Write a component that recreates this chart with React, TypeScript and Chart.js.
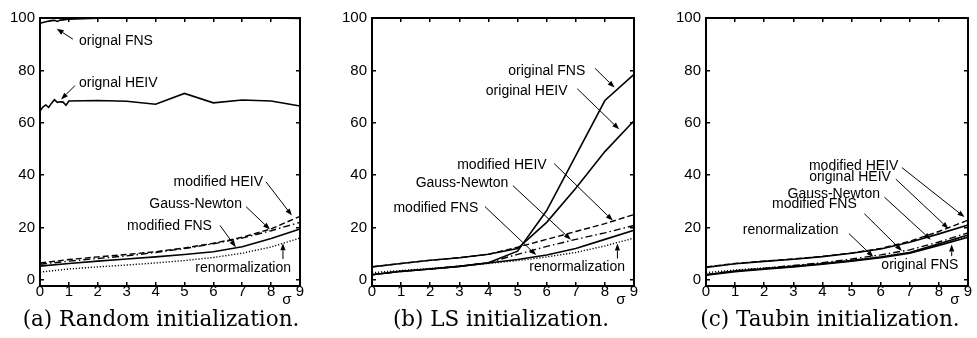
import React, { useEffect, useRef } from "react";
import { Chart, registerables } from "chart.js";
Chart.register(...registerables);

// ---------- shared axes ----------
const sigmaTicks = [0, 1, 2, 3, 4, 5, 6, 7, 8, 9];
const valueTicks = [0, 20, 40, 60, 80, 100];
const sigmaCoarse = [0, 1, 2, 3, 4, 5, 6, 7, 8, 9];
const sigmaFine = [0, 0.1, 0.2, 0.3, 0.4, 0.5, 0.6, 0.7, 0.8, 0.9, 1, 2, 3, 4, 5, 6, 7, 8, 9];

// ---------- (a) Random initialization ----------
const aOriginalFNS = [98.0, 98.3, 98.6, 98.8, 99.0, 99.1, 98.7, 99.2, 99.3, 99.4, 99.5, 99.9, 100, 100, 100, 100, 100, 100, 99.8];
const aOriginalHEIV = [64.5, 66.0, 66.8, 65.9, 67.5, 68.8, 67.8, 68.0, 67.9, 66.7, 68.3, 68.5, 68.2, 67.1, 71.2, 67.6, 68.7, 68.3, 66.4];
const aModifiedHEIV = [6.5, 7.8, 8.8, 9.7, 10.8, 12.2, 14.0, 16.3, 19.5, 24.3];
const aGaussNewton = [6.0, 7.2, 8.2, 9.2, 10.5, 12.0, 13.8, 16.0, 18.8, 22.0];
const aModifiedFNS = [5.3, 6.3, 7.2, 8.0, 8.8, 9.7, 10.8, 12.7, 15.8, 19.5];
const aRenormalization = [3.0, 4.2, 5.0, 5.7, 6.5, 7.4, 8.6, 10.2, 12.6, 16.0];

// ---------- (b) LS initialization ----------
const bOriginalFNS = [2.0, 3.3, 4.2, 5.2, 6.6, 11.0, 26.5, 47.5, 68.5, 78.5];
const bOriginalHEIV = [5.0, 6.3, 7.5, 8.5, 9.8, 12.0, 22.0, 35.0, 49.0, 60.8];
const bModifiedHEIV = [5.0, 6.3, 7.5, 8.5, 9.8, 12.5, 15.5, 18.5, 21.5, 25.0];
const bGaussNewton = [2.0, 3.3, 4.2, 5.2, 6.6, 9.8, 12.8, 15.5, 18.0, 20.8];
const bModifiedFNS = [2.0, 3.3, 4.2, 5.2, 6.5, 7.8, 9.5, 12.0, 15.5, 19.0];
const bRenormalization = [2.8, 3.6, 4.4, 5.3, 6.3, 7.4, 8.8, 10.5, 13.0, 16.0];

// ---------- (c) Taubin initialization ----------
const cModifiedHEIV = [5.0, 6.3, 7.2, 8.0, 9.0, 10.3, 12.0, 14.8, 18.5, 22.8];
const cOriginalHEIV = [4.8, 6.2, 7.1, 7.9, 8.9, 10.2, 11.8, 14.4, 17.6, 21.0];
const cGaussNewton = [2.0, 3.5, 4.5, 5.5, 6.6, 8.0, 9.6, 11.5, 14.5, 18.0];
const cModifiedFNS = [2.0, 3.4, 4.3, 5.2, 6.2, 7.4, 8.8, 10.5, 13.8, 17.2];
const cRenormalization = [2.8, 3.8, 4.6, 5.4, 6.4, 7.5, 8.8, 10.5, 13.5, 16.8];
const cOriginalFNS = [1.8, 3.2, 4.1, 5.0, 6.0, 7.2, 8.5, 10.2, 13.2, 16.3];

type Style = "solid" | "dashed" | "dashdot" | "dotted";
type Series = { label: string; xs: number[]; ys: number[]; style: Style };
type Note = { text: string; tx: number; ty: number; align: "left" | "right"; x0: number; y0: number; x1: number; y1: number };

const panelA: Series[] = [
  { label: "orignal FNS", xs: sigmaFine, ys: aOriginalFNS, style: "solid" },
  { label: "orignal HEIV", xs: sigmaFine, ys: aOriginalHEIV, style: "solid" },
  { label: "modified HEIV", xs: sigmaCoarse, ys: aModifiedHEIV, style: "dashed" },
  { label: "Gauss-Newton", xs: sigmaCoarse, ys: aGaussNewton, style: "dashdot" },
  { label: "modified FNS", xs: sigmaCoarse, ys: aModifiedFNS, style: "solid" },
  { label: "renormalization", xs: sigmaCoarse, ys: aRenormalization, style: "dotted" },
];
const panelB: Series[] = [
  { label: "original FNS", xs: sigmaCoarse, ys: bOriginalFNS, style: "solid" },
  { label: "original HEIV", xs: sigmaCoarse, ys: bOriginalHEIV, style: "solid" },
  { label: "modified HEIV", xs: sigmaCoarse, ys: bModifiedHEIV, style: "dashed" },
  { label: "Gauss-Newton", xs: sigmaCoarse, ys: bGaussNewton, style: "dashdot" },
  { label: "modified FNS", xs: sigmaCoarse, ys: bModifiedFNS, style: "solid" },
  { label: "renormalization", xs: sigmaCoarse, ys: bRenormalization, style: "dotted" },
];
const panelC: Series[] = [
  { label: "modified HEIV", xs: sigmaCoarse, ys: cModifiedHEIV, style: "dashed" },
  { label: "original HEIV", xs: sigmaCoarse, ys: cOriginalHEIV, style: "solid" },
  { label: "Gauss-Newton", xs: sigmaCoarse, ys: cGaussNewton, style: "dashdot" },
  { label: "modified FNS", xs: sigmaCoarse, ys: cModifiedFNS, style: "solid" },
  { label: "renormalization", xs: sigmaCoarse, ys: cRenormalization, style: "dotted" },
  { label: "original FNS", xs: sigmaCoarse, ys: cOriginalFNS, style: "solid" },
];

const notesA: Note[] = [
  { text: "orignal FNS", tx: 1.35, ty: 91.0, align: "left", x0: 1.14, y0: 91.9, x1: 0.58, y1: 95.9 },
  { text: "orignal HEIV", tx: 1.35, ty: 75.1, align: "left", x0: 1.21, y0: 74.2, x1: 0.73, y1: 68.9 },
  { text: "modified HEIV", tx: 7.72, ty: 37.2, align: "right", x0: 7.82, y0: 37.5, x1: 8.72, y1: 24.6 },
  { text: "Gauss-Newton", tx: 6.99, ty: 29.1, align: "right", x0: 7.13, y0: 28.0, x1: 7.96, y1: 19.3 },
  { text: "modified FNS", tx: 5.95, ty: 20.6, align: "right", x0: 6.23, y0: 20.8, x1: 6.78, y1: 12.5 },
  { text: "renormalization", tx: 8.69, ty: 4.7, align: "right", x0: 8.41, y0: 8.0, x1: 8.41, y1: 14.0 },
];
const notesB: Note[] = [
  { text: "original FNS", tx: 4.68, ty: 79.8, align: "left", x0: 7.66, y0: 80.8, x1: 8.33, y1: 73.5 },
  { text: "original HEIV", tx: 3.91, ty: 72.0, align: "left", x0: 7.05, y0: 73.0, x1: 8.49, y1: 57.5 },
  { text: "modified HEIV", tx: 6.0, ty: 43.8, align: "right", x0: 6.26, y0: 44.4, x1: 8.27, y1: 22.7 },
  { text: "Gauss-Newton", tx: 4.68, ty: 36.9, align: "right", x0: 4.84, y0: 36.0, x1: 6.83, y1: 15.4 },
  { text: "modified FNS", tx: 3.65, ty: 27.5, align: "right", x0: 3.88, y0: 28.0, x1: 5.64, y1: 9.5 },
  { text: "renormalization", tx: 8.69, ty: 5.0, align: "right", x0: 8.43, y0: 8.2, x1: 8.43, y1: 13.9 },
];
const notesC: Note[] = [
  { text: "modified HEIV", tx: 6.61, ty: 43.3, align: "right", x0: 6.73, y0: 42.9, x1: 8.88, y1: 24.0 },
  { text: "original HEIV", tx: 6.35, ty: 39.1, align: "right", x0: 6.52, y0: 38.5, x1: 8.33, y1: 19.6 },
  { text: "Gauss-Newton", tx: 5.98, ty: 32.8, align: "right", x0: 6.13, y0: 31.6, x1: 7.72, y1: 15.4 },
  { text: "modified FNS", tx: 5.18, ty: 28.8, align: "right", x0: 5.44, y0: 25.3, x1: 6.73, y1: 11.1 },
  { text: "renormalization", tx: 4.55, ty: 18.9, align: "right", x0: 4.91, y0: 17.7, x1: 5.75, y1: 8.8 },
  { text: "original FNS", tx: 8.67, ty: 5.7, align: "right", x0: 8.44, y0: 9.1, x1: 8.44, y1: 13.5 },
];

const SANS = "'Liberation Sans', Arial, sans-serif";
const Y_MIN = -2.3;
const Y_MAX = 100;

function dashFor(s: Style): number[] {
  if (s === "dashed") return [6, 3];
  if (s === "dashdot") return [7, 3, 1.5, 3];
  if (s === "dotted") return [1.2, 1.8];
  return [];
}

function makePlugin(notes: Note[]) {
  return {
    id: "sigmaNotes",
    afterDraw(chart: any) {
      const ctx = chart.ctx as CanvasRenderingContext2D;
      const xs = chart.scales.x;
      const ys = chart.scales.y;
      const B = ys.getPixelForValue(Y_MIN);
      ctx.save();
      ctx.setLineDash([]);
      ctx.fillStyle = "#000";
      ctx.strokeStyle = "#000";
      ctx.font = `15px ${SANS}`;
      ctx.textAlign = "center";
      ctx.textBaseline = "middle";
      ctx.fillText("σ", xs.getPixelForValue(8.55), B + 14);
      ctx.font = `14px ${SANS}`;
      ctx.lineWidth = 1;
      for (const n of notes) {
        ctx.textAlign = n.align;
        ctx.textBaseline = "middle";
        ctx.fillText(n.text, xs.getPixelForValue(n.tx), ys.getPixelForValue(n.ty));
        const px0 = xs.getPixelForValue(n.x0), py0 = ys.getPixelForValue(n.y0);
        const px1 = xs.getPixelForValue(n.x1), py1 = ys.getPixelForValue(n.y1);
        const ang = Math.atan2(py1 - py0, px1 - px0);
        const hl = 7, hw = 2.6;
        const bx = px1 - hl * Math.cos(ang), by = py1 - hl * Math.sin(ang);
        ctx.beginPath();
        ctx.moveTo(px0, py0); ctx.lineTo(bx, by);
        ctx.stroke();
        ctx.beginPath();
        ctx.moveTo(px1, py1);
        ctx.lineTo(bx + hw * Math.sin(ang), by - hw * Math.cos(ang));
        ctx.lineTo(bx - hw * Math.sin(ang), by + hw * Math.cos(ang));
        ctx.closePath();
        ctx.fill();
      }
      ctx.restore();
    },
  };
}

const inwardGrid = { display: true, drawOnChartArea: false, drawTicks: true, tickLength: -4, color: "#000", lineWidth: 1.5 };
const blackBorder = { display: true, color: "#000", width: 2 };

function Panel(props: { series: Series[]; notes: Note[]; left: number; width: number; padRight: number }) {
  const ref = useRef<HTMLCanvasElement | null>(null);
  useEffect(() => {
    if (!ref.current) return;
    const xTicks = (s: any) => { s.ticks = sigmaTicks.map((v) => ({ value: v })); };
    const yTicks = (s: any) => { s.ticks = valueTicks.map((v) => ({ value: v })); };
    const chart = new Chart(ref.current, {
      type: "line",
      data: {
        datasets: props.series.map((s) => ({
          label: s.label,
          data: s.xs.map((x, i) => ({ x, y: s.ys[i] })),
          borderColor: "#000",
          borderWidth: s.style === "solid" ? 1.6 : 1.4,
          borderDash: dashFor(s.style),
          pointRadius: 0,
          tension: 0,
          fill: false,
          clip: 2,
          xAxisID: "x",
          yAxisID: "y",
        })),
      },
      options: {
        animation: false,
        responsive: false,
        devicePixelRatio: 1,
        layout: { padding: { top: 16, right: props.padRight, left: 0, bottom: 0 } },
        plugins: { legend: { display: false }, tooltip: { enabled: false } },
        scales: {
          x: {
            type: "linear", position: "bottom", min: 0, max: 9,
            afterBuildTicks: xTicks,
            afterFit: (s: any) => { s.height = 24; },
            grid: inwardGrid, border: blackBorder,
            ticks: { color: "#000", font: { family: SANS, size: 15 }, padding: 1, maxRotation: 0, autoSkip: false },
          },
          x2: {
            type: "linear", position: "top", min: 0, max: 9,
            afterBuildTicks: xTicks,
            afterFit: (s: any) => { s.height = 0; },
            grid: inwardGrid, border: blackBorder,
            ticks: { display: false },
          },
          y: {
            type: "linear", position: "left", min: Y_MIN, max: Y_MAX,
            afterBuildTicks: yTicks,
            afterFit: (s: any) => { s.width = 40; },
            grid: inwardGrid, border: blackBorder,
            ticks: { color: "#000", font: { family: SANS, size: 15 }, padding: 9 },
          },
          y2: {
            type: "linear", position: "right", min: Y_MIN, max: Y_MAX,
            afterBuildTicks: yTicks,
            afterFit: (s: any) => { s.width = 0; },
            grid: inwardGrid, border: blackBorder,
            ticks: { display: false },
          },
        },
      },
      plugins: [makePlugin(props.notes)],
    } as any);
    return () => chart.destroy();
  }, []);
  return (
    <canvas
      ref={ref}
      width={props.width}
      height={310}
      style={{ position: "absolute", left: props.left, top: 0, width: props.width, height: 310 }}
    />
  );
}

const captionA = "(a) Random initialization.";
const captionB = "(b) LS initialization.";
const captionC = "(c) Taubin initialization.";

function Caption(props: { text: string; center: number }) {
  return (
    <div
      style={{
        position: "absolute",
        left: props.center - 200,
        width: 400,
        top: 307,
        lineHeight: "24px",
        textAlign: "center",
        fontFamily: "'DejaVu Serif', serif",
        fontSize: 21.5,
        color: "#000",
        whiteSpace: "nowrap",
      }}
    >
      {props.text}
    </div>
  );
}

export default function App() {
  return (
    <div style={{ position: "absolute", left: 0, top: 0, width: 977, height: 338, background: "#fff", overflow: "hidden" }}>
      <Panel series={panelA} notes={notesA} left={0} width={320} padRight={20} />
      <Panel series={panelB} notes={notesB} left={332} width={320} padRight={18} />
      <Panel series={panelC} notes={notesC} left={666} width={311} padRight={9} />
      <Caption text={captionA} center={161} />
      <Caption text={captionB} center={501} />
      <Caption text={captionC} center={830} />
    </div>
  );
}
